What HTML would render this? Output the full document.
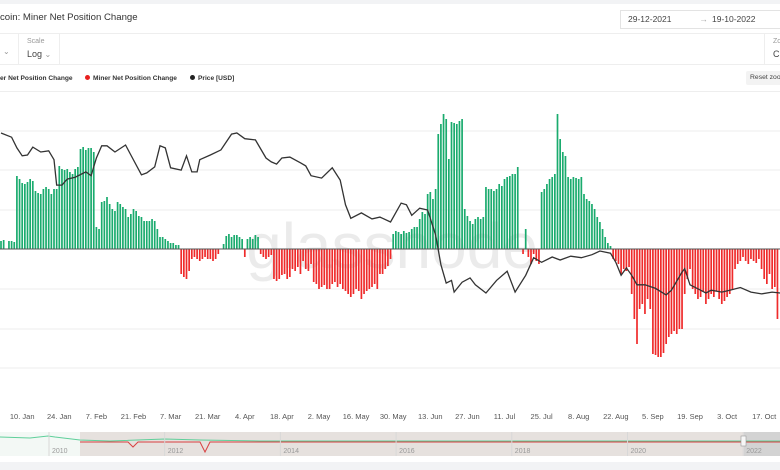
<!DOCTYPE html>
<html><head><meta charset="utf-8">
<style>
body{margin:0;width:780px;height:470px;overflow:hidden;background:#fff;font-family:"Liberation Sans",sans-serif;position:relative}
.a{position:absolute;white-space:nowrap}
</style></head><body>
<div class="a" style="left:0;top:0;width:780px;height:4px;background:#f2f3f5"></div>
<div class="a" style="left:0;top:12px;font-size:9.6px;color:#333">coin: Miner Net Position Change</div>
<div class="a" style="left:620px;top:10px;width:170px;height:17px;border:1px solid #e3e3e3;font-size:8.5px;color:#444;line-height:17px"><span style="margin-left:7px">29-12-2021</span><span style="margin-left:28px;color:#aaa">→</span><span style="margin-left:4px">19-10-2022</span></div>
<div class="a" style="left:0;top:33px;width:780px;height:1px;background:#eee"></div>
<div class="a" style="left:18px;top:34px;width:1px;height:30px;background:#eee"></div>
<div class="a" style="left:59px;top:34px;width:1px;height:30px;background:#eee"></div>
<div class="a" style="left:764px;top:34px;width:1px;height:30px;background:#eee"></div>
<div class="a" style="left:3px;top:47px;font-size:8px;color:#999">⌄</div>
<div class="a" style="left:27px;top:38px;font-size:7px;color:#999">Scale</div>
<div class="a" style="left:27px;top:49px;font-size:9px;color:#444">Log <span style="font-size:8px;color:#999">⌄</span></div>
<div class="a" style="left:773px;top:38px;font-size:7px;color:#999">Zo</div>
<div class="a" style="left:773px;top:49px;font-size:9px;color:#444">C</div>
<div class="a" style="left:0;top:64px;width:780px;height:1px;background:#eee"></div>
<div class="a" style="left:0;top:75px;font-size:6.6px;font-weight:bold;color:#333">er Net Position Change</div>
<div class="a" style="left:85px;top:75px;font-size:6.6px;font-weight:bold;color:#333"><span style="display:inline-block;width:5px;height:5px;border-radius:50%;background:#e8201e;margin-right:3px"></span>Miner Net Position Change</div>
<div class="a" style="left:190px;top:75px;font-size:6.6px;font-weight:bold;color:#333"><span style="display:inline-block;width:5px;height:5px;border-radius:50%;background:#222;margin-right:3px"></span>Price [USD]</div>
<div class="a" style="left:746px;top:71px;width:40px;height:14px;background:#f3f3f3;border-radius:2px;font-size:6.8px;color:#444;line-height:14px;padding-left:4px">Reset zoom</div>
<div class="a" style="left:0;top:91px;width:780px;height:1px;background:#eee"></div>
<svg id="chart" class="a" style="left:0;top:0" width="780" height="470"></svg>
<div class="a" style="left:0;top:462px;width:780px;height:8px;background:#f2f3f5"></div>
<script>
const barValues=[8,9,0,8,8,7,
73,70,66,65,67,70,68,58,56,55,60,62,60,
55,60,60,
83,80,79,80,77,75,80,82,
100,102,99,101,101,97,
22,20,
47,48,52,45,40,38,47,45,42,40,32,35,40,38,33,32,28,28,28,30,28,
20,12,12,10,8,6,
6,4,4,
-25,-28,-30,-22,-10,-8,-10,-12,-10,-8,-10,-10,-12,-10,-5,
0,5,13,15,12,14,
14,12,10,
-8,
10,12,10,14,12,
-5,-8,-10,-8,-6,
-30,-32,-30,-26,-25,-30,-28,
-20,-22,-18,-25,-12,-20,-22,-15,
-33,-35,-40,-38,-36,-40,-40,-35,-33,-38,-35,
-40,-42,-45,-48,-45,-40,-42,-50,-45,-42,-40,-38,-35,-40,-25,
-25,-20,-17,-10,
15,18,17,15,18,16,17,20,
22,22,30,37,35,
55,57,50,60,
115,125,135,
130,90,
127,126,125,128,130,
40,33,28,25,30,32,30,32,
62,60,60,58,60,65,63,
70,72,73,75,75,82,
0,-5,20,
-8,-15,-5,-12,-15,
57,60,65,
70,72,75,
135,110,97,93,
72,70,72,71,70,72,
55,50,48,45,40,
32,27,20,12,6,3,
-10,-12,-15,-25,-20,-22,-18,
-45,-70,-95,-60,
-55,-65,-50,-60,
-105,-106,-108,-108,-104,-95,
-88,-85,-82,-85,-80,-80,
-45,-30,-20,
-40,-45,-50,-48,-42,-55,-50,-45,-48,-42,-50,-55,-52,-48,-45,-40,
-20,-15,-12,
-8,-12,-15,-10,-12,-14,-10,
-20,-30,-35,-25,
-40,-38,-70];
const priceDays=[0,4,6,8,10,12,15,18,20,21,23,25,28,32,34,36,38,40,43,47,49,53,55,58,60,62,64,68,70,72,74,75,79,83,87,89,92,96,100,102,104,106,109,113,115,117,121,125,128,130,132,136,140,143,147,151,153,155,158,161,164,166,168,170,171,174,177,179,183,187,191,194,198,201,204,208,211,215,219,223,226,230,232,234,236,238,240,243,247,251,253,257,258,260,264,266,268,272,275,279,283,287,291,294];
const priceVals=[47.0,45.9,43.2,41.3,41.5,43.4,42.2,42.5,40.4,35.0,35.0,36.2,36.6,37.7,36.9,40.8,43.7,43.7,42.2,43.9,41.5,37.1,37.5,38.8,43.7,43.2,38.6,38.1,41.3,37.7,37.7,40.4,41.5,42.7,46.7,47.0,45.5,45.2,40.8,39.9,39.4,40.8,41.0,39.7,39.0,36.9,36.4,38.6,36.0,31.3,29.0,29.9,28.9,29.2,28.4,31.6,31.3,29.5,30.7,30.4,26.4,22.3,20.1,20.4,19.1,20.2,20.7,19.9,19.0,20.4,21.5,19.1,21.0,23.2,22.6,23.3,22.9,23.4,23.2,23.6,24.1,23.8,22.6,21.0,21.9,21.0,19.9,19.9,19.5,18.8,19.3,21.4,21.8,19.9,19.3,19.0,19.3,19.1,19.3,19.6,19.1,18.9,19.1,19.0];
const tickLabels=["10. Jan","24. Jan","7. Feb","21. Feb","7. Mar","21. Mar","4. Apr","18. Apr","2. May","16. May","30. May","13. Jun","27. Jun","11. Jul","25. Jul","8. Aug","22. Aug","5. Sep","19. Sep","3. Oct","17. Oct"];
const tickDays=[8,22,36,50,64,78,92,106,120,134,148,162,176,190,204,218,232,246,260,274,288];
const yearLabels=["2010","2012","2014","2016","2018","2020","2022"];

const svg=document.getElementById('chart');const NS='http://www.w3.org/2000/svg';
function mk(t,a){const e=document.createElementNS(NS,t);for(const k in a)e.setAttribute(k,a[k]);svg.appendChild(e);return e;}
const xS=d=>d*2.65+1;
const zeroY=249;
const yBar=v=>zeroY-v;
const yPrice=p=>293-Math.log(p/19)/0.00566;
[131,170,210,289,329,368].forEach(y=>{const g=mk('line',{x1:0,x2:780,y1:y,y2:y,stroke:'#eeeeee','stroke-width':1});

});
const wm=mk('text',{x:392,y:268,'text-anchor':'middle','font-size':64,fill:'#000','fill-opacity':0.08,'font-family':'Liberation Sans, sans-serif'});
wm.textContent='glassnode';


barValues.forEach((v,i)=>{if(!v)return;const y=yBar(v);
const r=mk('rect',{x:xS(i)-0.85,y:Math.min(y,zeroY),width:1.7,height:Math.abs(v),fill:v>0?'#1aab6e':'#ef2b2b'});

});
const zl=mk('line',{x1:0,x2:780,y1:zeroY,y2:zeroY,stroke:'#555','stroke-width':1});


const pts=priceDays.map((d,i)=>xS(d)+','+yPrice(priceVals[i]).toFixed(1)).join(' ');
const pl=mk('polyline',{points:pts,fill:'none',stroke:'#333','stroke-width':1.3});


tickLabels.forEach((t,i)=>{const e=mk('text',{x:xS(tickDays[i]),y:419,'text-anchor':'middle','font-size':7.5,fill:'#555'});e.textContent=t;

});
const nb=mk('rect',{x:0,y:432,width:780,height:24,fill:'#f3f8f5'});


const ns=mk('rect',{x:80,y:432,width:664,height:24,fill:'#e6e1de'});


const nsel=mk('rect',{x:744,y:432,width:36,height:24,fill:'#d3d3d3'});


const ng=mk('polyline',{points:'0,437 30,438 48,436 55,437 80,440 110,441 165,439 200,440 260,441 780,441',fill:'none',stroke:'#5fcf9a','stroke-width':1});


const nr=mk('polyline',{points:'80,442 128,442 133,447 138,442 200,442 205,452 210,442 780,442',fill:'none',stroke:'#d84040','stroke-width':1});


yearLabels.forEach((t,i)=>{const x=52+i*115.7;const l=mk('line',{x1:x-3,x2:x-3,y1:432,y2:456,stroke:'#d8d8d8'});


const e=mk('text',{x:x,y:453,'font-size':7,fill:'#999'});e.textContent=t;

});
const h=mk('rect',{x:741,y:436,width:5,height:10,fill:'#f7f7f7',stroke:'#999','stroke-width':0.6});


</script>
</body></html>
